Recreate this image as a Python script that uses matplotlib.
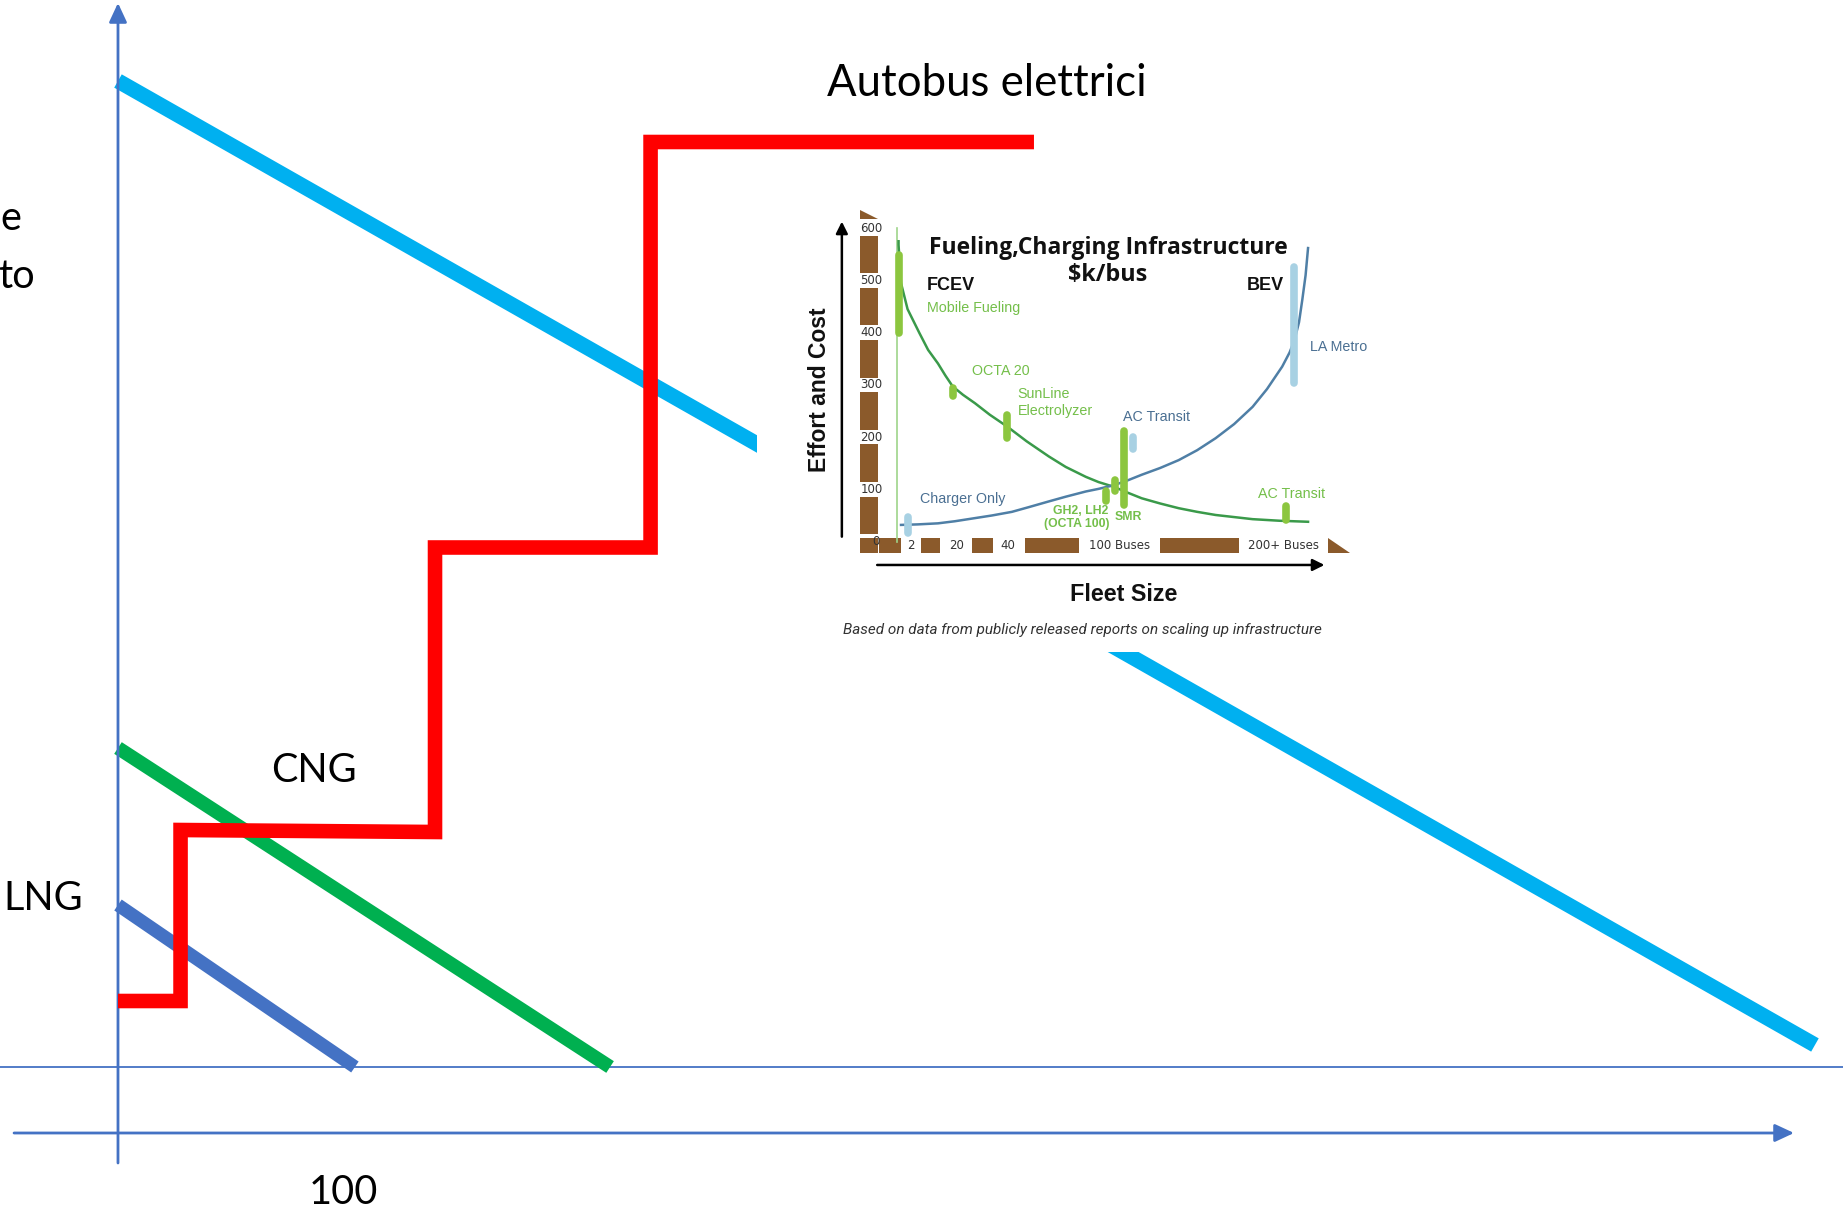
import matplotlib
matplotlib.use("Agg")
import matplotlib.pyplot as plt
from matplotlib.patches import Rectangle, Polygon

# --- main sketch: cost vs fleet size (schematic) ---
bev_line_x = [0, 754.2]          # cyan line (battery buses)
bev_line_y = [98.6, 2.2]
cng_x = [0, 218.7]
cng_y = [31.9, 0]
lng_x = [0, 105.3]
lng_y = [16.2, 0]
# red staircase (charging infrastructure)
step_x = [0, 27.8, 27.8, 140.9, 140.9, 236.7, 236.7, 407.1]
step_y = [6.6, 6.6, 23.7, 23.5, 51.95, 51.95, 92.5, 92.5]

# --- inset chart: Fueling, Charging Infrastructure $k/bus ---
fcev_x = [0.3, 0.3, 0.9, 2.5, 5.4, 7.5, 9.9, 11.7, 13.5, 16, 18.9, 22.5, 26.8, 31.5,
          36.9, 41, 45.9, 49, 52.7, 56, 59.5, 64, 68.5, 73, 77.5, 82, 86.5, 93, 100]
fcev_cost = [575, 568, 495, 445, 399, 367, 341, 318, 297, 281, 265, 243, 220, 192,
             163, 143, 124, 114, 105, 94, 83, 73, 64, 57, 51, 47, 43, 40, 38]
bev_x = [0.9, 5, 9.9, 14, 18.9, 23, 27.9, 32, 36.9, 41, 45.9, 49, 52.7, 56, 59.5, 64,
         68.5, 73, 77.5, 82, 86.5, 90, 93.7, 95.5, 96.7, 97.8, 98.6, 99.4, 100]
bev_cost = [32, 33, 35, 39, 45, 50, 57, 66, 77, 86, 96, 101, 108, 117, 128, 141,
            156, 175, 198, 225, 258, 292, 335, 362, 386, 420, 463, 510, 562]

fcev_mark_x = [0.3, 13.5, 26.8, 50.7, 53.0, 55.1, 94.6]
fcev_mark_lo = [399, 278, 198, 77, 96, 70, 41]
fcev_mark_hi = [549, 294, 242, 96, 118, 211, 68]
bev_mark_x = [2.7, 57.5, 96.7]
bev_mark_lo = [16, 177, 304]
bev_mark_hi = [48, 200, 526]

cost_ticks = [0, 100, 200, 300, 400, 500, 600]
fleet_labels = ["0", "2", "20", "40", "100 Buses", "200+ Buses"]
fleet_label_x = [-5.2, 3.4, 14.4, 27.0, 54.1, 94.1]
fleet_bar_x0 = [-4.5, 5.8, 18.2, 31.1, 64.0]
fleet_bar_x1 = [0.9, 10.3, 23.2, 44.3, 83.3]

AXBLUE = "#4472C4"
BROWN = "#8B5A2B"
LGREEN = "#8CC63F"
DGREEN = "#3A9A4A"
LBLUE = "#A8D1E3"
SBLUE = "#4F7FA6"
TXTGREEN = "#74BF4A"
TXTBLUE = "#4A6F92"

fig = plt.figure(figsize=(18.43, 12.11), dpi=100)
ax = fig.add_axes([0, 0, 1, 1])
ax.set_xlim(-52.44, 766.67)
ax.set_ylim(-14.4, 106.7)
ax.axis("off")

# axes of the sketch
ax.axhline(0, color=AXBLUE, lw=1.3, zorder=1)
arrow = dict(arrowstyle="-|>,head_length=0.58,head_width=0.27", color=AXBLUE,
             lw=2, mutation_scale=20, shrinkA=0, shrinkB=0)
ax.annotate("", xy=(0, 106.4), xytext=(0, -9.6), arrowprops=arrow)
ax.annotate("", xy=(744.9, -6.6), xytext=(-46.2, -6.6), arrowprops=arrow)

ax.plot(bev_line_x, bev_line_y, color="#00B0F0", lw=11, solid_capstyle="butt", zorder=2)
ax.plot(cng_x, cng_y, color="#00B050", lw=10, solid_capstyle="butt", zorder=2)
ax.plot(lng_x, lng_y, color=AXBLUE, lw=9.5, solid_capstyle="butt", zorder=2)
ax.plot(step_x, step_y, color="#FF0000", lw=10.5, solid_capstyle="butt",
        solid_joinstyle="miter", zorder=3)

tf = dict(family=["Lato", "DejaVu Sans"], color="black")
ax.text(386.2, 98.4, "Autobus elettrici", ha="center", va="center", fontsize=31.5, **tf)
ax.text(87.1, 29.6, "CNG", ha="center", va="center", fontsize=28.5, **tf)
ax.text(-33.2, 16.9, "LNG", ha="center", va="center", fontsize=28.5, **tf)
ax.text(100, -12.6, "100", ha="center", va="center", fontsize=28.5, **tf)
ax.text(-43.1, 84.8, "e", ha="right", va="center", fontsize=28.5, **tf)
ax.text(-36.8, 79.0, "to", ha="right", va="center", fontsize=28.5, **tf)

# --- inset picture ---
ins = fig.add_axes([757 / 1843, 1 - 652 / 1211, 618 / 1843, 452 / 1211])
ins.set_xlim(-34.16, 116.3)
ins.set_ylim(-211.3, 654)
ins.set_xticks([])
ins.set_yticks([])
for s in ins.spines.values():
    s.set_visible(False)
ins.set_facecolor("white")
ins.set_zorder(5)

# brown column and row
for k in range(6):
    ins.add_patch(Rectangle((-9.2, k * 100 + 14), 4.4, 72, color=BROWN, lw=0))
ins.add_patch(Rectangle((-9.2, -21.7), 4.4, 28, color=BROWN, lw=0))
ins.add_patch(Polygon([(-9.2, 635), (-9.2, 618), (-4.8, 618)], color=BROWN, lw=0))
for x0, x1 in zip(fleet_bar_x0, fleet_bar_x1):
    ins.add_patch(Rectangle((x0, -21.7), x1 - x0, 28.7, color=BROWN, lw=0))
ins.add_patch(Polygon([(104.9, 7), (104.9, -21.7), (110.3, -21.7)], color=BROWN, lw=0))

small = dict(family="DejaVu Sans", fontsize=8.5, color="#333333")
for t in cost_ticks:
    ins.text(-6.3 if t else -5.2, t, str(t), ha="center", va="center", **small)
for lab, x in zip(fleet_labels[1:], fleet_label_x[1:]):
    ins.text(x, -8.3, lab, ha="center", va="center", **small)

ins.plot([0, 0], [0, 600], color="#9ED48A", lw=1.2)
ia = dict(arrowstyle="-|>,head_length=0.5,head_width=0.25", color="black",
          lw=1.8, mutation_scale=14, shrinkA=0, shrinkB=0)
ins.annotate("", xy=(-13.5, 612.7), xytext=(-13.5, 9.5), arrowprops=ia)
ins.annotate("", xy=(104, -44.7), xytext=(-4.9, -44.7), arrowprops=ia)

ins.plot(fcev_x, fcev_cost, color=DGREEN, lw=1.8)
ins.plot(bev_x, bev_cost, color=SBLUE, lw=1.8)
for x, lo, hi in zip(fcev_mark_x, fcev_mark_lo, fcev_mark_hi):
    ins.plot([x, x], [lo, hi], color=LGREEN, lw=5.5, solid_capstyle="round")
for x, lo, hi in zip(bev_mark_x, bev_mark_lo, bev_mark_hi):
    ins.plot([x, x], [lo, hi], color=LBLUE, lw=5.5, solid_capstyle="round")

bold = dict(family=["Open Sans", "DejaVu Sans"], fontweight="bold", color="#111111")
ins.text(51.3, 562, "Fueling,Charging Infrastructure", ha="center", va="center", fontsize=16.5, **bold)
ins.text(51.3, 511, "$k/bus", ha="center", va="center", fontsize=16.8, **bold)
ab = dict(family=["Liberation Sans", "DejaVu Sans"], fontweight="bold", color="#111111")
ins.text(13.1, 489.6, "FCEV", ha="center", va="center", fontsize=13, **ab)
ins.text(89.6, 489.6, "BEV", ha="center", va="center", fontsize=13, **ab)
ins.text(-18.9, 290, "Effort and Cost", rotation=90, ha="center", va="center", fontsize=16.5, **ab)
ins.text(55.0, -102, "Fleet Size", ha="center", va="center", fontsize=16.8, **ab)

lab = dict(family=["Liberation Sans", "DejaVu Sans"], fontsize=10.3)
ins.text(7.2, 447.5, "Mobile Fueling", ha="left", va="center", color=TXTGREEN, **lab)
ins.text(25.2, 327, "OCTA 20", ha="center", va="center", color=TXTGREEN, **lab)
ins.text(29.3, 282.8, "SunLine", ha="left", va="center", color=TXTGREEN, **lab)
ins.text(29.3, 250.8, "Electrolyzer", ha="left", va="center", color=TXTGREEN, **lab)
ins.text(95.9, 91.3, "AC Transit", ha="center", va="center", color=TXTGREEN, **lab)
ins.text(63.1, 238, "AC Transit", ha="center", va="center", color=TXTBLUE, **lab)
ins.text(100.4, 373, "LA Metro", ha="left", va="center", color=TXTBLUE, **lab)
ins.text(16.0, 81, "Charger Only", ha="center", va="center", color=TXTBLUE, **lab)
gb = dict(family=["Liberation Sans", "DejaVu Sans"], fontsize=8.8, fontweight="bold", color=TXTGREEN)
ins.text(44.6, 58.6, "GH2, LH2", ha="center", va="center", **gb)
ins.text(43.7, 33.1, "(OCTA 100)", ha="center", va="center", **gb)
ins.text(56.3, 47, "SMR", ha="center", va="center", **gb)

ins.text(45.0, -169, "Based on data from publicly released reports on scaling up infrastructure",
         ha="center", va="center", family=["Roboto", "DejaVu Sans"], style="italic",
         fontsize=11, color="#333333")

fig.savefig("out.png", dpi=100)
